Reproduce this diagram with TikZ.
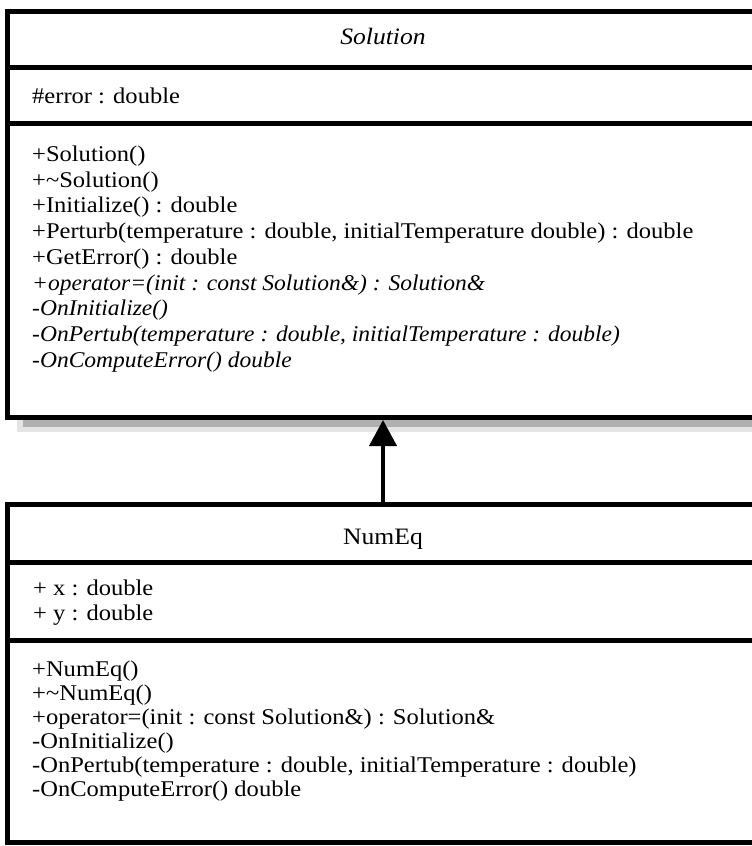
\documentclass[tikz,border=0pt]{standalone}
\usepackage{fontspec}
\setmainfont{Liberation Serif}[FakeStretch=1.09]
\newfontface\itface{Liberation Serif Italic}[FakeStretch=1.045]
\usetikzlibrary{arrows.meta}
\definecolor{shadowdark}{HTML}{B0B0B0}
\definecolor{shadowlight}{HTML}{E4E4E4}
\tikzset{
  umlbox/.style={draw=black, line width=5pt, fill=white, inner sep=0pt},
  divider/.style={draw=black, line width=5pt},
  txt/.style={anchor=base west, inner sep=0pt, font=\fontsize{22.5}{25}\selectfont},
  ttl/.style={anchor=base, inner sep=0pt, font=\fontsize{23.5}{26}\selectfont},
  inherit/.style={draw=black, line width=4pt, -{Triangle[width=27pt,length=26pt]}}
}
\begin{document}
\begin{tikzpicture}[x=1pt,y=-1pt]
\useasboundingbox (0,0) rectangle (752,846);
% shadow of Solution
\fill[shadowlight] (17,415) rectangle (780,432);
\fill[shadowdark] (23,415) rectangle (780,427);
% Solution box
\node[umlbox, minimum width=751pt, minimum height=406.5pt] (sol) at (383,214.25) {};
\draw[divider] (7.5,67.5) -- (758.5,67.5);
\draw[divider] (7.5,123) -- (758.5,123);
\node[ttl] (soltitle) at (383,44) {\textit{Solution}};
\node[txt] (solattr) at (32,103) {\#error : double};
\foreach \t [count=\i from 0] in {
  {+Solution()},
  {+\char`\~Solution()},
  {+Initialize() : double},
  {+Perturb(temperature : double, initialTemperature double) : double},
  {+GetError() : double},
  {\itface +operator=(init : const Solution\&) : Solution\&},
  {\itface -OnInitialize()},
  {\itface -OnPertub(temperature : double, initialTemperature : double)},
  {\itface -OnComputeError() double}}
  \node[txt] (solm\i) at (32,161.5+25.7*\i) {\t};
% NumEq box
\node[umlbox, minimum width=751pt, minimum height=338pt] (num) at (383,673) {};
\draw[divider] (7.5,562) -- (758.5,562);
\draw[divider] (7.5,640) -- (758.5,640);
\node[ttl] (numtitle) at (383,544) {NumEq};
\node[txt] (numa0) at (33,595) {+ x : double};
\node[txt] (numa1) at (33,620) {+ y : double};
\foreach \t [count=\i from 0] in {
  {+NumEq()},
  {+\char`\~NumEq()},
  {+operator=(init : const Solution\&) : Solution\&},
  {-OnInitialize()},
  {-OnPertub(temperature : double, initialTemperature : double)},
  {-OnComputeError() double}}
  \node[txt] (numm\i) at (32,676+24*\i) {\t};
% generalization
\draw[inherit] (num.north) -- (sol.south);
\end{tikzpicture}
\end{document}
